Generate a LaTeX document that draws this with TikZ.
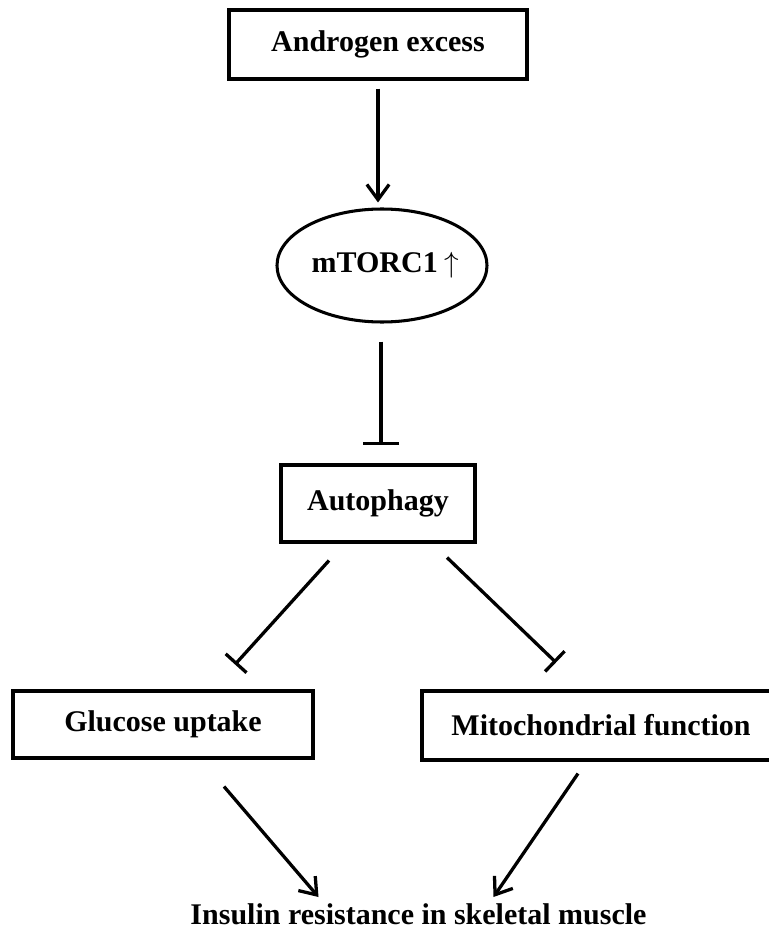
\documentclass[tikz,border=0pt]{standalone}
\usepackage{fontspec}
\setmainfont{Liberation Serif}
\usetikzlibrary{arrows.meta,shapes.geometric,calc}

\begin{document}
\begin{tikzpicture}[x=0.03cm, y=-0.03cm,
    every node/.style={font=\fontsize{25.6}{30}\selectfont\bfseries, inner sep=0pt},
    box/.style={draw, line width=2.6pt, minimum height=#1*0.03cm},
    act/.style={line width=2.8pt, -{Straight Barb[length=13pt, width=19pt]}},
    inh/.style={line width=2.8pt, -{Bar[width=#1pt]}}]
\useasboundingbox (0,0) rectangle (769,934);
\clip (0,0) rectangle (769,934);

\node[box=69, minimum width=298*0.03cm] (andro) at (378, 44.5) {Androgen excess};
\node[draw, ellipse, line width=2.6pt, inner xsep=-6pt, minimum width=210*0.03cm, minimum height=113*0.03cm] (mtor) at (382, 265.5) {\hspace{6pt}mTORC1\hspace{6pt}$\uparrow$};
\node[box=77, minimum width=194*0.03cm] (auto) at (378, 503.5) {Autophagy};
\node[box=67, minimum width=300*0.03cm] (gluc) at (163, 724.5) {Glucose uptake};
\node[box=69, minimum width=358*0.03cm] (mito) at (601, 725.5) {Mitochondrial function};
\node[anchor=base] (ins) at (418.5, 924) {Insulin resistance in skeletal muscle};

\draw[act] ($(andro.south)+(0,8)$) -- ($(mtor.north)+(-4,-5)$);
\draw[inh=31] ($(mtor.south)+(-1,18)$) -- ($(auto.north)+(3,-18)$);

\draw[inh=24] ($(auto.south)+(-49,17)$) -- ($(gluc.north)+(72,-25)$);
\draw[inh=24] ($(auto.south)+(69,14)$) -- ($(mito.north)+(-45,-27)$);

\draw[act] ($(gluc.south)+(61,27)$) -- ($(ins.base)+(-100,-27)$);
\draw[act] ($(mito.south)+(-23,12)$) -- ($(ins.base)+(75,-27)$);
\end{tikzpicture}
\end{document}
